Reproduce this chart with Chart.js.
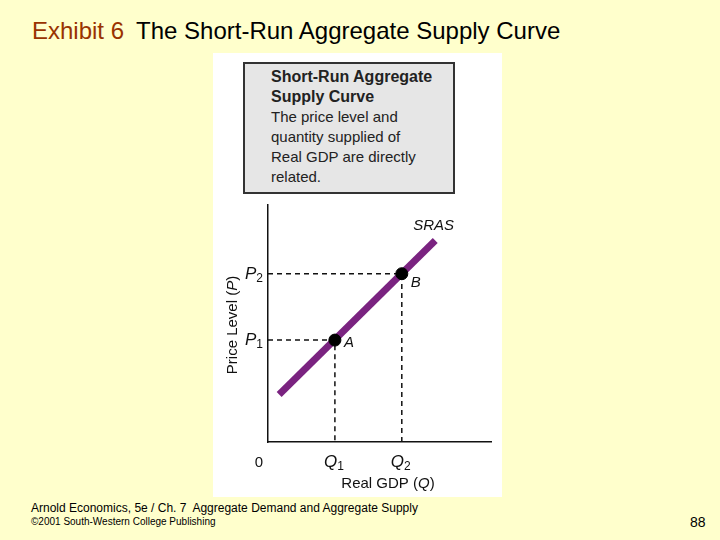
<!DOCTYPE html>
<html>
<head>
<meta charset="utf-8">
<script src="https://cdn.jsdelivr.net/npm/chart.js@4/dist/chart.umd.min.js"></script>
<style>
  body { margin: 0; width: 720px; height: 540px; background: #ffffcc; position: relative; overflow: hidden; font-family: "Liberation Sans", Arial, sans-serif; }
  .title { position: absolute; left: 32px; top: 17px; font-size: 24px; white-space: nowrap; color: #000; }
  .title .exhibit { color: #993300; margin-right: 12px; }
  .panel { position: absolute; left: 213px; top: 53px; width: 289px; height: 444px; background: #fff; }
  .box { position: absolute; left: 243px; top: 62px; width: 208px; height: 128px; background: #e6e6e6; border: 2px solid #333; }
  .box .txt { position: absolute; left: 26px; top: 3px; font-size: 15px; line-height: 20px; color: #222; white-space: nowrap; }
  .box b { font-size: 16px; }
  .canvasDiv { position: absolute; left: 212px; top: 198px; width: 290px; height: 298px; }
  .foot1 { position: absolute; left: 31px; top: 501px; font-size: 12px; white-space: nowrap; }
  .foot2 { position: absolute; left: 31px; top: 516px; font-size: 10px; white-space: nowrap; }
  .page { position: absolute; left: 690px; top: 514px; font-size: 14px; }
</style>
</head>
<body>
<div class="title"><span class="exhibit">Exhibit 6</span>The Short-Run Aggregate Supply Curve</div>
<div class="panel"></div>
<div class="box"><div class="txt"><b>Short-Run Aggregate<br>Supply Curve</b><br>The price level and<br>quantity supplied of<br>Real GDP are directly<br>related.</div></div>
<div class="canvasDiv"><canvas id="myCanvas" width="290" height="298"></canvas></div>
<div class="foot1">Arnold Economics, 5e / Ch. 7&nbsp; Aggregate Demand and Aggregate Supply</div>
<div class="foot2">&copy;2001 South-Western College Publishing</div>
<div class="page">88</div>
<script>
// quantities and price levels at the two marked points (axis 0..10)
const pointNames = ["A", "B"];
const qValues = [3, 6];
const pValues = [4.3, 7.1];
const subs = ["1", "2"];

// ends of the SRAS line
const srasX = [0.5, 7.5];
const srasY = [2.0, 8.5];

const purple = "rgb(122, 35, 128)";

const guideSets = qValues.map((q, i) => ({
  data: [{ x: 0, y: pValues[i] }, { x: q, y: pValues[i] }, { x: q, y: 0 }],
  showLine: true,
  borderColor: "#111",
  borderWidth: 1.5,
  borderDash: [5, 4],
  pointRadius: 0,
  order: 3,
}));

const srasSet = {
  data: srasX.map((x, i) => ({ x: x, y: srasY[i] })),
  showLine: true,
  borderColor: purple,
  borderWidth: 7,
  pointRadius: 0,
  order: 2,
};

const pointSet = {
  data: qValues.map((q, i) => ({ x: q, y: pValues[i] })),
  showLine: false,
  pointRadius: 6,
  pointBackgroundColor: "#000",
  pointBorderColor: "#000",
  order: 1,
};

function subLabel(ctx, x, y, main, sub, align) {
  ctx.font = "italic 17px 'Liberation Sans', Arial, sans-serif";
  const w1 = ctx.measureText(main).width;
  ctx.font = "12px 'Liberation Sans', Arial, sans-serif";
  const w2 = ctx.measureText(sub).width;
  let left = x;
  if (align === "right") left = x - w1 - w2;
  if (align === "center") left = x - (w1 + w2) / 2;
  ctx.font = "italic 17px 'Liberation Sans', Arial, sans-serif";
  ctx.fillText(main, left, y);
  ctx.font = "12px 'Liberation Sans', Arial, sans-serif";
  ctx.fillText(sub, left + w1, y + 3);
}

const labelPlugin = {
  id: "labels",
  afterDraw(chart) {
    const ctx = chart.ctx;
    const xs = chart.scales.x;
    const ys = chart.scales.y;
    const area = chart.chartArea;
    ctx.save();
    ctx.fillStyle = "#111";
    ctx.textBaseline = "alphabetic";
    ctx.textAlign = "left";

    // P1, P2 and Q1, Q2
    pValues.forEach((p, i) => {
      subLabel(ctx, area.left - 5, ys.getPixelForValue(p) + 5, "P", subs[i], "right");
    });
    qValues.forEach((q, i) => {
      subLabel(ctx, xs.getPixelForValue(q) - 1, area.bottom + 25, "Q", subs[i], "center");
    });

    ctx.font = "15px 'Liberation Sans', Arial, sans-serif";
    ctx.textAlign = "center";
    ctx.fillText("0", area.left - 9, area.bottom + 25);

    // point names
    ctx.font = "italic 15px 'Liberation Sans', Arial, sans-serif";
    ctx.textAlign = "left";
    const offs = [[9, 7], [9, 13]];
    pointNames.forEach((n, i) => {
      ctx.fillText(n, xs.getPixelForValue(qValues[i]) + offs[i][0], ys.getPixelForValue(pValues[i]) + offs[i][1]);
    });

    // curve name
    ctx.fillText("SRAS", xs.getPixelForValue(srasX[1]) - 22, ys.getPixelForValue(srasY[1]) - 11);

    // axis titles
    ctx.font = "15px 'Liberation Sans', Arial, sans-serif";
    const t1 = "Real GDP (", t2 = "Q", t3 = ")";
    const w1 = ctx.measureText(t1).width;
    const w3 = ctx.measureText(t3).width;
    ctx.font = "italic 15px 'Liberation Sans', Arial, sans-serif";
    const w2 = ctx.measureText(t2).width;
    let lx = 388 - 212 - (w1 + w2 + w3) / 2;
    const by = area.bottom + 46;
    ctx.font = "15px 'Liberation Sans', Arial, sans-serif";
    ctx.fillText(t1, lx, by);
    ctx.font = "italic 15px 'Liberation Sans', Arial, sans-serif";
    ctx.fillText(t2, lx + w1, by);
    ctx.font = "15px 'Liberation Sans', Arial, sans-serif";
    ctx.fillText(t3, lx + w1 + w2, by);

    ctx.translate(area.left - 31, 325 - 198);
    ctx.rotate(-Math.PI / 2);
    const y1 = "Price Level (", y2 = "P", y3 = ")";
    const a1 = ctx.measureText(y1).width;
    const a3 = ctx.measureText(y3).width;
    ctx.font = "italic 15px 'Liberation Sans', Arial, sans-serif";
    const a2 = ctx.measureText(y2).width;
    let vx = -(a1 + a2 + a3) / 2;
    ctx.font = "15px 'Liberation Sans', Arial, sans-serif";
    ctx.fillText(y1, vx, 0);
    ctx.font = "italic 15px 'Liberation Sans', Arial, sans-serif";
    ctx.fillText(y2, vx + a1, 0);
    ctx.font = "15px 'Liberation Sans', Arial, sans-serif";
    ctx.fillText(y3, vx + a1 + a2, 0);
    ctx.restore();
  },
};

const canvas = document.querySelector("#myCanvas");
const myChart = new Chart(canvas, {
  type: "scatter",
  data: { datasets: [pointSet, srasSet, ...guideSets] },
  options: {
    responsive: false,
    animation: false,
    layout: { padding: { left: 0, right: 11, top: 5, bottom: 0 } },
    plugins: { legend: { display: false }, tooltip: { enabled: false } },
    scales: {
      x: {
        type: "linear",
        min: 0,
        max: 10,
        grid: { display: false },
        ticks: { display: false },
        border: { display: true, color: "#111", width: 1.5 },
        afterFit: (s) => { s.height = 54; },
      },
      y: {
        type: "linear",
        min: 0,
        max: 10,
        grid: { display: false },
        ticks: { display: false },
        border: { display: true, color: "#111", width: 1.5 },
        afterFit: (s) => { s.width = 56; },
      },
    },
  },
  plugins: [labelPlugin],
});
</script>
</body>
</html>
